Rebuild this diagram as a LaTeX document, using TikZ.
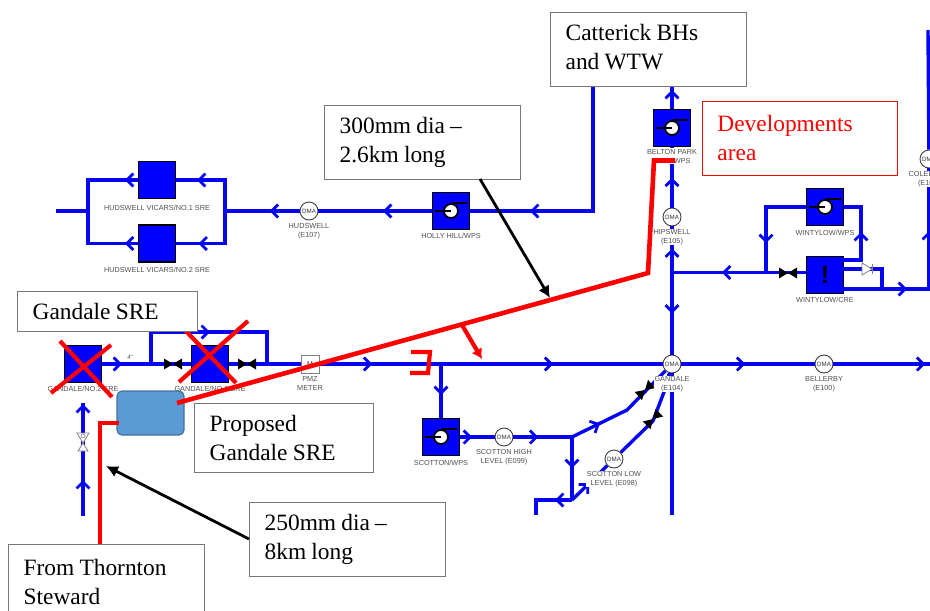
\documentclass[tikz,border=0pt]{standalone}
\usepackage{fontspec}
\usepackage{xcolor}
\usepackage{tikz}
\usetikzlibrary{arrows.meta,positioning,decorations.markings}
\setmainfont{Liberation Serif}
\newfontfamily\tagfont{Liberation Sans}
\definecolor{pipeblue}{HTML}{0505F0}
\definecolor{tankfill}{HTML}{5B9BD5}
\definecolor{tankedge}{HTML}{41719C}
\definecolor{boxedge}{HTML}{777777}
\definecolor{tagtext}{HTML}{505050}
\tikzset{
  flow/.style={postaction={decorate,decoration={markings,mark=at position #1 with {\arrow[pipeblue]{Straight Barb[length=6.5pt,width=13pt,line width=2.8pt]}}}}},
  valve/.pic={\fill[black] (-9,-5.5) -- (9,5.5) -- (9,-5.5) -- (-9,5.5) -- cycle;},
  hourglass/.pic={\draw[gray,fill=white,line width=0.8pt] (-6,-10) -- (6,-10) -- (0,0) -- cycle;
    \draw[gray,fill=white,line width=0.8pt] (-5,8) -- (5,8) -- (0,0) -- cycle;
    \draw[gray,line width=0.6pt] (0,-7) circle (2);},
  checkvalve/.pic={\draw[gray,fill=white,line width=0.8pt] (-5,-6) -- (5,0) -- (-5,6) -- cycle;
    \draw[gray,line width=0.8pt] (5,-5) -- (5,5);}
}
\begin{document}
\begin{tikzpicture}[x=1pt,y=-1pt,>=Latex,node distance=1pt]
  \tikzstyle{pipe}=[draw=pipeblue,line width=3.4pt]
  \tikzstyle{srebox}=[draw=black,line width=1.4pt,fill=blue,minimum size=37pt,inner sep=0pt]
  \tikzstyle{pumpbox}=[srebox,path picture={
    \draw[black,fill=white,line width=1.8pt] (path picture bounding box.center) circle (7pt);
    \draw[black,line width=1.4pt] ([xshift=-16pt]path picture bounding box.center) -- (path picture bounding box.center);
    \draw[black,line width=1.4pt] ([xshift=1pt,yshift=8pt]path picture bounding box.center) -- ([xshift=16pt,yshift=8pt]path picture bounding box.center);}]
  \tikzstyle{dma}=[circle,draw=black!75,fill=white,line width=0.9pt,minimum size=18pt,inner sep=0pt,font=\tagfont\fontsize{6.2}{7}\selectfont,text=black!80]
  \tikzstyle{tag}=[align=center,fill=white,inner sep=0.5pt,text=tagtext,font=\tagfont\fontsize{7.3}{9}\selectfont]
  \tikzstyle{callout}=[draw=boxedge,line width=1.3pt,fill=white,anchor=north west,align=left,minimum width=196pt,minimum height=74pt,inner xsep=15pt,text width=166pt,font=\fontsize{23.4}{29}\selectfont,execute at begin node={\spaceskip=5.2pt\relax}]
  \tikzstyle{redline}=[draw=red,line width=4.6pt]
  \tikzstyle{crossline}=[draw=red,line width=4.2pt]
  \tikzstyle{pointer}=[draw=black,line width=2.8pt,-{Latex[length=12pt,width=12pt]}]
  \useasboundingbox (0,0) rectangle (930,611);

  \node[srebox] (hudswell1) at (157,180) {};
  \node[srebox] (hudswell2) at (157,243.5) {};
  \node[dma] (dmahudswell) at (309,211) {DMA};
  \node[pumpbox] (hollyhill) at (451,211) {};
  \node[pumpbox] (belton) at (672,128) {};
  \node[dma] (dmahipswell) at (672,217) {DMA};
  \node[pumpbox] (wintywps) at (825,207) {};
  \node[srebox,font=\tagfont\bfseries\fontsize{25}{25}\selectfont] (wintycre) at (825,275) {!};
  \node[dma] (dmacole) at (929,159) {DMA};
  \node[srebox] (gandale2) at (83,364) {};
  \node[srebox] (gandale1) at (210,364) {};
  \node[draw=gray,fill=white,line width=0.8pt,minimum size=18pt,inner sep=0pt,font=\tagfont\fontsize{7}{8}\selectfont,text=black!80] (meter) at (310,364) {M};
  \node[dma] (dmagandale) at (672,364) {DMA};
  \node[dma] (dmabellerby) at (824,364) {DMA};
  \node[pumpbox] (scotton) at (441,437) {};
  \node[dma] (dmahigh) at (504,437) {DMA};
  \node[dma] (dmalow) at (614,459) {DMA};

  \coordinate (hudsend) at (56,211);
  \coordinate (hudswest) at (88,211);
  \coordinate (hudseast) at (225,211);
  \coordinate (cattdrop) at (593,86);
  \coordinate (beltontop) at (672,86);
  \coordinate (wintyjoin) at (672,272.5);
  \coordinate (gandalefoot) at (672,515);
  \coordinate (bypasswest) at (151,364);
  \coordinate (bypasseast) at (267,364);
  \coordinate (mainend) at (930,364);
  \coordinate (scotfork) at (572,437);
  \coordinate (scotbend) at (627,410);
  \coordinate (scotlow) at (572,500);
  \coordinate (scotend) at (536,515);
  \coordinate (lowbend) at (653,421);
  \coordinate (lowneck) at (664,392);
  \coordinate (leftfoot) at (83,516);
  \coordinate (lefttop) at (83,403);
  \coordinate (wintyloop) at (766,273);
  \coordinate (wintyup) at (843,260);
  \coordinate (wintyne) at (861,207);
  \coordinate (wintymid) at (843,269);
  \coordinate (wintyjog) at (882,289);
  \coordinate (wintylow) at (843,289);
  \coordinate (risertop) at (928,30);

  \draw[pipe] (hudswest) -- (hudsend);
  \draw[pipe,flow=59pt] (hudseast) |- (hudswell1.east);
  \draw[pipe,flow=59pt] (hudseast) |- (hudswell2.east);
  \draw[pipe,flow=13pt] (hudswell1.west) -| (hudswest);
  \draw[pipe,flow=13pt] (hudswell2.west) -| (hudswest);
  \draw[pipe,flow=30pt] (dmahudswell) -- (hudseast);
  \draw[pipe,flow=49pt] (hollyhill) -- (dmahudswell);
  \draw[pipe,flow=188pt] (cattdrop) |- (hollyhill.east);
  \draw[pipe,flow=19pt] (belton.north) -- (beltontop);
  \draw[pipe,flow=30pt] (dmahipswell) -- (belton.south);
  \draw[pipe,flow=24pt] (wintyjoin) -- (dmahipswell);
  \draw[pipe,flow=41pt] (wintyjoin) -- (dmagandale);
  \draw[pipe] (dmagandale) -- (gandalefoot);
  \draw[pipe,flow=84pt] (wintycre.west |- wintyjoin) -- (wintyjoin);
  \draw[pipe,flow=76pt] (wintywps.west) -| (wintyloop);
  \draw[pipe,flow=46pt] (wintyup) -| (wintyne) -- (wintywps.east);
  \draw[pipe] (wintymid) -| (wintyjog);
  \draw[pipe,flow=64pt,flow=144pt] (wintylow) -| (dmacole);
  \draw[pipe] (dmacole) -- (risertop);
  \draw[pipe,flow=20pt] (gandale2.east) -- (gandale1.west);
  \draw[pipe] (gandale1.east) -- (meter.west);
  \draw[pipe,flow=91pt] (bypasswest) -- ++(0,-32) -| (bypasseast);
  \draw[pipe,flow=53pt,flow=234pt] (meter.east) -- (dmagandale);
  \draw[pipe,flow=64pt] (dmagandale) -- (dmabellerby);
  \draw[pipe,flow=92pt] (dmabellerby) -- (mainend);
  \draw[pipe,flow=31pt] (scotton.north |- meter) -- (scotton.north);
  \draw[pipe,flow=12pt] (scotton.east) -- (dmahigh);
  \draw[pipe,flow=25pt] (dmahigh) -- (scotfork);
  \draw[pipe,flow=31pt] (scotfork) -- (scotbend) -- (dmagandale);
  \draw[pipe,flow=31pt] (scotfork) -- (scotlow);
  \draw[pipe,flow=17pt] (scotlow) -| (scotend);
  \draw[pipe,flow=24pt] (scotlow) -- (dmalow);
  \draw[pipe] (dmalow) -- (lowbend) -- (lowneck) -- (dmagandale);
  \draw[pipe,flow=36pt,flow=112pt] (leftfoot) -- (lefttop);

  \pic at (173,364) {valve};
  \pic at (247,364) {valve};
  \pic at (788,273) {valve};
  \pic[rotate=42] at (645,390) {valve};
  \pic[rotate=45] at (653,419) {valve};
  \pic at (83,443) {hourglass};
  \pic at (867,269) {checkvalve};

  \begin{scope}
    \clip (100,260) rectangle (220,271.5);
    \node[tag,below=4pt of hudswell2] (tagvicars2) {HUDSWELL VICARS/NO.2 SRE};
  \end{scope}
  \node[tag,below=5pt of hudswell1] (tagvicars1) {HUDSWELL VICARS/NO.1 SRE};
  \node[tag,below=2pt of dmahudswell] (taghudswell) {HUDSWELL\\(E107)};
  \node[tag,below=2pt of hollyhill] (tagholly) {HOLLY HILL/WPS};
  \node[tag,below=1pt of belton] (tagbelton) {BELTON PARK\\WTW/WPS};
  \node[tag,below=2pt of dmahipswell] (taghipswell) {HIPSWELL\\(E105)};
  \node[tag,below=3pt of wintywps] (tagwintywps) {WINTYLOW/WPS};
  \node[tag,below=2pt of wintycre] (tagwintycre) {WINTYLOW/CRE};
  \node[tag,below=2pt of dmacole] (tagcole) {COLEBURN\\(E102)};
  \node[tag,below=2pt of gandale2] (taggandale2) {GANDALE/NO.2 SRE};
  \node[tag,below=2pt of gandale1] (taggandale1) {GANDALE/NO.1 SRE};
  \node[tag,below=2pt of meter] (tagmeter) {PMZ\\METER};
  \node[tag,below=2pt of dmagandale] (taggandale) {GANDALE\\(E104)};
  \node[tag,below=2pt of dmabellerby] (tagbellerby) {BELLERBY\\(E100)};
  \node[tag,below=3pt of scotton] (tagscotton) {SCOTTON/WPS};
  \node[tag,below=2pt of dmahigh] (taghigh) {SCOTTON HIGH\\LEVEL (E099)};
  \node[tag,below=2pt of dmalow] (taglow) {SCOTTON LOW\\LEVEL (E098)};
  \node[text=tagtext,inner sep=0pt,font=\tagfont\fontsize{6}{7}\selectfont] (fourinch) at (130,357) {4"};

  \node[draw=tankedge,fill=tankfill,line width=1.2pt,rounded corners=5pt,minimum width=67pt,minimum height=44pt] (proposedtank) at (150.5,413) {};

  \coordinate (redstart) at (177,403);
  \coordinate (redbend) at (648,273);
  \coordinate (redtop) at (654,160.5);
  \coordinate (redend) at (675,160.5);
  \coordinate (redwest) at (119,423);
  \coordinate (redcorner) at (100,423);
  \coordinate (redfoot) at (100,545);
  \coordinate (redbranch) at (462,325);
  \coordinate (redtip) at (482,359);
  \coordinate (capa) at (411,352);
  \coordinate (capb) at (430,352);
  \coordinate (capc) at (428,373);
  \coordinate (capd) at (410,373);
  \coordinate (crossaa) at (51,393);
  \coordinate (crossab) at (111,345);
  \coordinate (crossac) at (60,341);
  \coordinate (crossad) at (112,397);
  \coordinate (crossba) at (182,327);
  \coordinate (crossbb) at (236,383);
  \coordinate (crossbc) at (248,321);
  \coordinate (crossbd) at (179,382);

  \draw[redline] (redstart) -- (redbend) -- (redtop) -- (redend);
  \draw[redline] (redwest) -- (redcorner) -- (redfoot);
  \draw[crossline,-{Latex[length=10pt,width=12pt]}] (redbranch) -- (redtip);
  \draw[crossline] (capa) -- (capb) -- (capc) -- (capd);
  \draw[crossline] (crossaa) -- (crossab);
  \draw[crossline] (crossac) -- (crossad);
  \draw[crossline] (crossba) -- (crossbb);
  \draw[crossline] (crossbc) -- (crossbd);

  \node[callout] (catterick) at (550,12) {Catterick BHs\\and WTW\\[-24pt]\mbox{}};
  \node[callout] (longthree) at (324,105) {300mm dia --\\2.6km long};
  \node[callout,draw=red,line width=0.9pt,text=red,text width=165pt,minimum width=195pt] (developments) at (702,101) {Developments\\area};
  \node[callout,text width=150pt,minimum width=180pt,minimum height=40pt] (gandalesre) at (17,291) {Gandale SRE};
  \node[callout,text width=149pt,minimum width=179pt,minimum height=69pt] (proposedbox) at (194,403) {Proposed\\Gandale SRE};
  \node[callout] (longtwo) at (249,502) {250mm dia --\\8km long};
  \node[callout] (thornton) at (8,544) {From Thornton\\Steward};

  \coordinate (fromthree) at (480,179);
  \coordinate (tipthree) at (550,298);
  \coordinate (fromtwo) at (249,539);
  \coordinate (tiptwo) at (106,466);
  \draw[pointer] (fromthree) -- (tipthree);
  \draw[pointer] (fromtwo) -- (tiptwo);
\end{tikzpicture}
\end{document}
